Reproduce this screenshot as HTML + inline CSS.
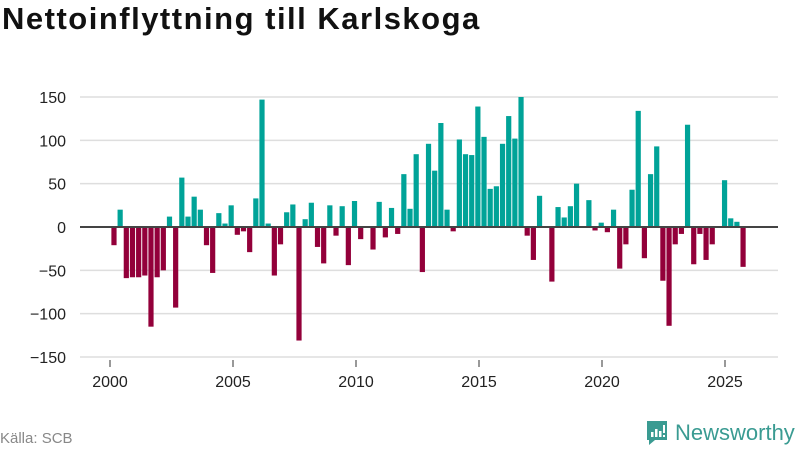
<!DOCTYPE html>
<html><head><meta charset="utf-8">
<style>
html,body{margin:0;padding:0;background:#fff;}
body{width:800px;height:450px;overflow:hidden;position:relative;font-family:"Liberation Sans","DejaVu Sans",sans-serif;}
#title{position:absolute;left:2px;top:1px;font-size:31px;font-weight:bold;color:#111;margin:0;letter-spacing:1.5px;}
#source{position:absolute;left:0;top:430px;font-size:15px;color:#888;}
#logo{position:absolute;left:645px;top:420px;display:flex;align-items:center;gap:6px;color:#3a9b92;font-size:22px;}
</style></head><body>
<h1 id="title">Nettoinflyttning till Karlskoga</h1>
<svg id="chart" width="800" height="450" style="position:absolute;left:0;top:0"></svg>
<div id="source">Källa: SCB</div>
<div id="logo">
<svg width="24" height="26" viewBox="0 0 24 26"><path d="M2 1h20v19H10l-6 5v-5H2z" fill="#3a9b92"/><rect x="6" y="12" width="2.5" height="5" fill="#fff"/><rect x="10" y="9" width="2.5" height="8" fill="#fff"/><rect x="14" y="11" width="2.5" height="6" fill="#fff"/><rect x="18" y="5" width="2" height="8" fill="#fff"/><rect x="18" y="15" width="2" height="2" fill="#fff"/></svg>
<span>Newsworthy</span></div>
<script>
const startYear = 2000;
const values = [-21,20,-59,-58,-58,-56,-115,-58,-50,12,-93,57,12,35,20,-21,-53,16,4,25,-9,-5,-29,33,147,4,-56,-20,17,26,-131,9,28,-23,-42,25,-10,24,-44,30,-14,0,-26,29,-12,22,-8,61,21,84,-52,96,65,120,20,-5,101,84,83,139,104,44,47,96,128,102,150,-10,-38,36,1,-63,23,11,24,50,1,31,-4,5,-6,20,-48,-20,43,134,-36,61,93,-62,-114,-20,-8,118,-43,-8,-38,-20,0,54,10,6,-46];
const yTicks = [-150,-100,-50,0,50,100,150];
const xTicks = [2000,2005,2010,2015,2020,2025];
const NS="http://www.w3.org/2000/svg";
const svg=document.getElementById('chart');
const x=yr=>110+(yr-2000)*24.6;
const xb=yr=>110.9+(yr-2000)*24.67;
const y=v=>227-v*(130/150);
function mk(t,a){const e=document.createElementNS(NS,t);for(const k in a)e.setAttribute(k,a[k]);svg.appendChild(e);return e;}
yTicks.forEach(t=>{
  if(t!==0){const g=mk('line',{x1:80,x2:778,y1:y(t),y2:y(t),stroke:'#dedede','stroke-width':1.5});
  
  }
  const l=mk('text',{x:66,y:y(t)+6,'text-anchor':'end','font-size':16,fill:'#222','font-family':'Liberation Sans, sans-serif'});
  l.textContent=t===0?'0':(t<0?'\u2212'+(-t):t);
  
  
});
xTicks.forEach(t=>{
  const tk=mk('line',{x1:x(t),x2:x(t),y1:360,y2:367,stroke:'#333','stroke-width':1});
  
  
  const l=mk('text',{x:x(t),y:387,'text-anchor':'middle','font-size':16,fill:'#222','font-family':'Liberation Sans, sans-serif'});
  l.textContent=t;
  
  
});
values.forEach((v,i)=>{
  const cx=xb(startYear+i/4+0.125);
  const r=mk('rect',{x:cx-2.6,width:5.2,y:Math.min(y(v),y(0)),height:Math.abs(y(v)-y(0)),fill:v>=0?'#00a398':'#93003a'});
  
  
});
const z=mk('line',{x1:80,x2:778,y1:y(0),y2:y(0),stroke:'#444','stroke-width':2});


</script>
</body></html>
